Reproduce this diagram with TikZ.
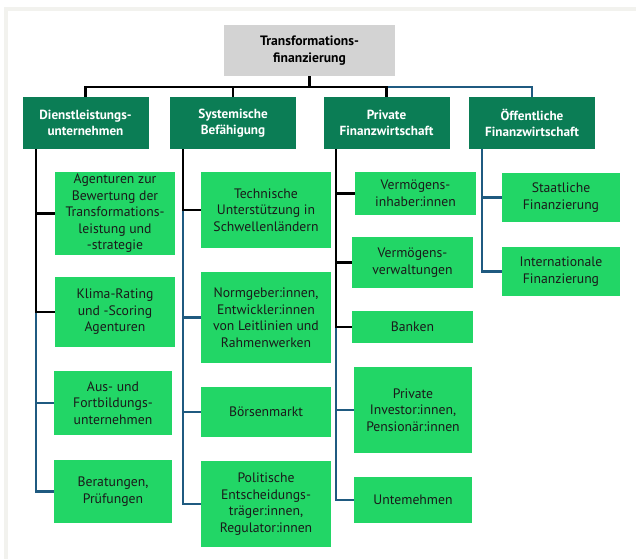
\documentclass[tikz,border=0pt]{standalone}
\usepackage{fontspec}
\setmainfont{PT Sans}

\definecolor{framegray}{HTML}{F2F2EE}
\definecolor{rootgray}{HTML}{D3D3D3}
\definecolor{headgreen}{HTML}{0B7D55}
\definecolor{leafgreen}{HTML}{22D666}
\definecolor{linkblue}{HTML}{1F5A80}
\definecolor{ink}{HTML}{1A1A1A}

\tikzset{
  box/.style={
    rectangle,
    inner sep=0pt,
    align=center,
    font=\fontsize{13.7}{16.5}\selectfont,
  },
  root/.style={
    box,
    fill=rootgray,
    minimum width=171pt,
    minimum height=51pt,
    font=\bfseries\fontsize{13.6}{16.5}\selectfont,
  },
  head/.style={
    box,
    fill=headgreen,
    text=white,
    minimum width=126pt,
    minimum height=52pt,
    font=\bfseries\fontsize{13.2}{16.5}\selectfont,
  },
  leaf/.style={
    box,
    fill=leafgreen,
    text=ink,
  },
  link/.style={
    line width=2.4pt,
    draw=black,
  },
  link blue/.style={
    link,
    draw=linkblue,
  },
}

\begin{document}
\begin{tikzpicture}[x=1pt, y=-1pt]

  \useasboundingbox (0,0) rectangle (636,559);
  \fill[framegray] (4,7) rectangle (636,559);
  \fill[white] (8,11) rectangle (636,559);

  \node[root](root) at (309.5,50.5) {Transformations-\\finanzierung};

  \node[head](h1) at (85.5,123) {Dienstleistungs-\\unternehmen};
  \node[head](h2) at (233,123) {Systemische\\Befähigung};
  \node[head](h3) at (386.5,123) {Private\\Finanzwirtschaft};
  \node[head](h4) at (532,123) {Öffentliche\\Finanzwirtschaft};

  % Dienstleistungsunternehmen
  \node[leaf, minimum width=120pt, minimum height=83pt](a1) at (115,213.5)
    {Agenturen zur\\Bewertung der\\Transformations-\\leistung und\\-strategie};
  \node[leaf, minimum width=120pt, minimum height=70pt](a2) at (115,312)
    {Klima-Rating\\und -Scoring\\Agenturen};
  \node[leaf, minimum width=118pt, minimum height=64pt](a3) at (113,403)
    {Aus- und\\Fortbildungs-\\unternehmen};
  \node[leaf, minimum width=118pt, minimum height=63pt](a4) at (113,491.5)
    {Beratungen,\\Prüfungen};

  % Systemische Befaehigung
  \node[leaf, minimum width=130pt, minimum height=76pt](b1) at (266,210)
    {Technische\\Unterstützung in\\Schwellenländern};
  \node[leaf, minimum width=130pt, minimum height=91pt](b2) at (266,317.5)
    {Normgeber:innen,\\Entwickler:innen\\von Leitlinien und\\Rahmenwerken};
  \node[leaf, minimum width=130pt, minimum height=50pt](b3) at (266,412)
    {Börsenmarkt};
  \node[leaf, minimum width=130pt, minimum height=86pt](b4) at (266,504)
    {Politische\\Entscheidungs-\\träger:innen,\\Regulator:innen};

  % Private Finanzwirtschaft
  \node[leaf, minimum width=121pt, minimum height=43pt](c1) at (415.5,193.5)
    {Vermögens-\\inhaber:innen};
  \node[leaf, minimum width=121pt, minimum height=51pt](c2) at (412.5,262.5)
    {Vermögens-\\verwaltungen};
  \node[leaf, minimum width=121pt, minimum height=32pt](c3) at (412.5,327)
    {Banken};
  \node[leaf, minimum width=118pt, minimum height=86pt](c4) at (413,410)
    {Private\\Investor:innen,\\Pensionär:innen};
  \node[leaf, minimum width=118pt, minimum height=46pt](c5) at (413,500)
    {Untemehmen};

  % Oeffentliche Finanzwirtschaft
  \node[leaf, minimum width=118pt, minimum height=49pt](d1) at (561,197.5)
    {Staatliche\\Finanzierung};
  \node[leaf, minimum width=118pt, minimum height=49pt](d2) at (561,271.5)
    {Internationale\\Finanzierung};

  \coordinate(bar) at (0,87);
  \coordinate(t1) at (36,0);
  \coordinate(t2) at (183,0);
  \coordinate(t3) at (336,0);
  \coordinate(t4) at (482,0);

  \draw[link blue] (h3.north |- bar) -| (h4.north);
  \draw[link] (root.south) -- (root.south |- bar);
  \draw[link] (h1.north) |- (h3.north |- bar) -- (h3.north);
  \draw[link] (h2.north) -- (h2.north |- bar);

  \draw[link blue] (t1 |- a2) |- (a4.west);
  \draw[link blue] (t1 |- a3) -- (a3.west);
  \draw[link] (t1 |- h1.south) |- (a2.west);
  \draw[link] (t1 |- a1) -- (a1.west);

  \draw[link blue] (t2 |- b1) |- (b4.west);
  \draw[link blue] foreach \n in {b2,b3} { (t2 |- \n) -- (\n.west) };
  \draw[link] (t2 |- h2.south) |- (b1.west);

  \draw[link blue] (t3 |- c3) |- (c5.west);
  \draw[link blue] (t3 |- c4) -- (c4.west);
  \draw[link] (t3 |- h3.south) |- (c3.west);
  \draw[link] foreach \n in {c1,c2} { (t3 |- \n) -- (\n.west) };

  \draw[link blue] (t4 |- h4.south) |- (d2.west);
  \draw[link blue] (t4 |- d1) -- (d1.west);

\end{tikzpicture}
\end{document}
